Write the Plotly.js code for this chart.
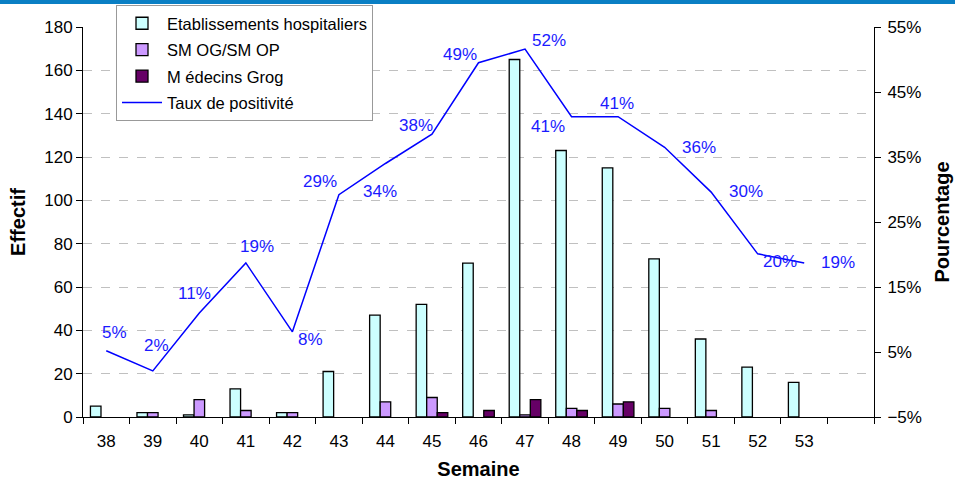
<!DOCTYPE html>
<html>
<head>
<meta charset="utf-8">
<script src="https://cdn.plot.ly/plotly-3.0.1.min.js"></script>
<style>html,body{margin:0;padding:0;background:#fff;}#chart{width:955px;height:482px;}</style>
</head>
<body>
<div id="chart"></div>
<script>
// Data
var semaines = [38, 39, 40, 41, 42, 43, 44, 45, 46, 47, 48, 49, 50, 51, 52, 53];
var etablissements = [5, 2, 1, 13, 2, 21, 47, 52, 71, 165, 123, 115, 73, 36, 23, 16];
var smog = [null, 2, 8, 3, 2, null, 7, 9, null, 1, 4, 6, 4, 3, null, null];
var medecins = [null, null, null, null, null, null, null, 2, 3, 8, 3, 7, null, null, null, null];
var taux = [5.2, 2.1, 11, 18.7, 8.1, 29.2, 34, 38.5, 49.5, 51.6, 41.2, 41.2, 36.5, 29.6, 20.1, 18.7];
var tauxLabels = ['5%', '2%', '11%', '19%', '8%', '29%', '34%', '38%', '49%', '52%', '41%', '41%', '36%', '30%', '20%', '19%'];

// label offsets (pixels) for data labels
var labelDx = [8, 4, -5, 11, 18, -19, -5, -16, -19, 24, -24, -1, 34, 35, 22, 34];
var labelDy = [18, 25, 20, 16, -8, 13, -28, 9, 8, 9, -10, 13, 0, 1, -8, 0];

var fontFam = 'Liberation Sans, Arial, sans-serif';

var traces = [
  {type: 'bar', name: 'Etablissements hospitaliers', x: semaines, y: etablissements, legendgroup: 'a',
   marker: {color: '#CCFFFF', line: {color: '#000', width: 1.3}}},
  {type: 'bar', name: 'SM OG/SM OP', x: semaines, y: smog, legendgroup: 'b',
   marker: {color: '#CC99FF', line: {color: '#000', width: 1.3}}},
  {type: 'bar', name: 'M édecins Grog', x: semaines, y: medecins, legendgroup: 'c',
   marker: {color: '#660066', line: {color: '#000', width: 1.3}}},
  {type: 'scatter', mode: 'lines', name: 'Taux de positivité', x: semaines, y: taux, yaxis: 'y2', legendgroup: 'd',
   line: {color: '#0000FF', width: 1.5}}
];

var annotations = semaines.map(function (s, i) {
  return {x: s, y: taux[i], xref: 'x', yref: 'y2', text: tauxLabels[i], showarrow: false,
    xshift: labelDx[i], yshift: labelDy[i], font: {family: fontFam, size: 17, color: '#1A1AFF'}};
});

var layout = {
  width: 955, height: 482,
  margin: {l: 83, r: 81, t: 27, b: 65, autoexpand: false},
  paper_bgcolor: '#fff', plot_bgcolor: '#fff',
  barmode: 'group', bargap: 0.32, bargroupgap: 0,
  font: {family: fontFam, size: 17, color: '#000'},
  showlegend: true,
  legend: {x: (116 - 83) / 791, y: (417 - 5) / 390,
    xanchor: 'left', yanchor: 'top', bgcolor: '#fff',
    bordercolor: '#999', borderwidth: 1, font: {family: fontFam, size: 16.5, color: '#000'},
    traceorder: 'grouped', tracegroupgap: 2, itemwidth: 40},
  xaxis: {
    range: [37.5, 54.5], tickvals: semaines, ticktext: semaines.map(String),
    ticks: '', showgrid: false, zeroline: false,
    showline: true, linecolor: '#000', linewidth: 1,
    minor: {tick0: 37.5, dtick: 1, ticks: 'outside', ticklen: 6, tickcolor: '#000', showgrid: false},
    tickfont: {size: 17}, ticklabelstandoff: 9,
    title: {text: 'Semaine', font: {size: 20, weight: 'bold'}, standoff: 11}
  },
  yaxis: {
    range: [0, 180], dtick: 20, tick0: 0,
    ticks: 'outside', ticklen: 6, tickcolor: '#000',
    showline: true, linecolor: '#000', linewidth: 1,
    showgrid: true, gridcolor: '#C0C0C0', griddash: 'dash', gridwidth: 1,
    zeroline: false, tickfont: {size: 17},
    title: {text: 'Effectif', font: {size: 20, weight: 'bold'}, standoff: 13}
  },
  yaxis2: {
    overlaying: 'y', side: 'right', range: [-5, 55], tick0: -5, dtick: 10,
    ticksuffix: '%', ticks: 'outside', ticklen: 6, tickcolor: '#000',
    showline: true, linecolor: '#000', linewidth: 1,
    showgrid: false, zeroline: false, tickfont: {size: 17}, ticklabelstandoff: 3,
    title: {text: 'Pourcentage', font: {size: 20, weight: 'bold'}, standoff: 14}
  },
  shapes: [
    {type: 'rect', xref: 'paper', yref: 'paper', x0: -0.11, x1: 1.11,
     y0: (417 - 4) / 390, y1: 1.08, fillcolor: '#0A7FC4', line: {width: 0}, layer: 'above'}
  ],
  annotations: annotations
};

Plotly.newPlot('chart', traces, layout, {displayModeBar: false, staticPlot: true});
</script>
</body>
</html>
